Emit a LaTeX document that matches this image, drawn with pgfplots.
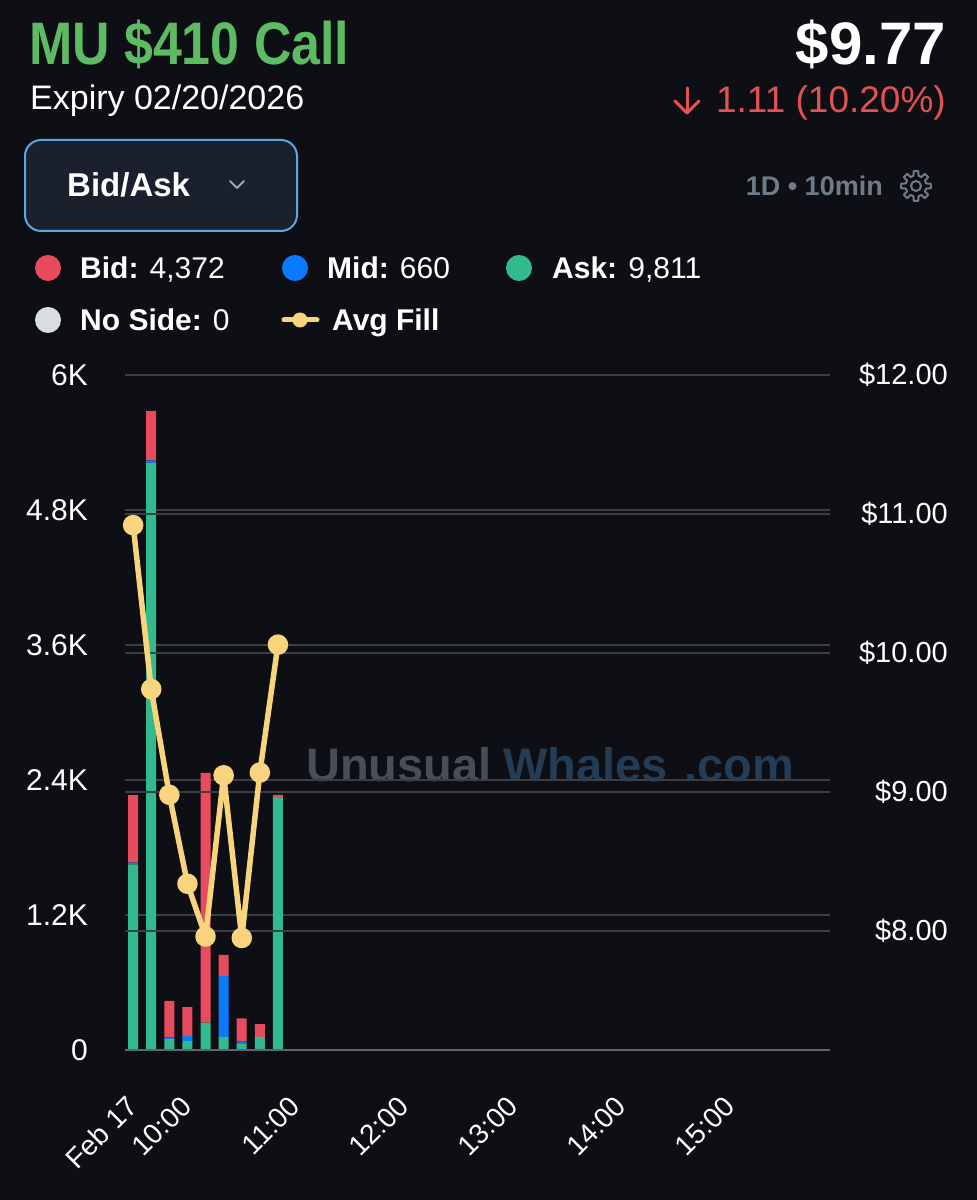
\documentclass[border=0pt]{standalone}
\usepackage{fontspec}
\setmainfont{Liberation Sans}
\newfontfamily\condfont[FakeStretch=0.865]{Liberation Sans}
\usepackage{pgfplots}
\pgfplotsset{compat=1.18}
\definecolor{bg}{HTML}{0D0F14}
\definecolor{titlegreen}{HTML}{5DBB63}
\definecolor{downred}{HTML}{E35252}
\definecolor{bidred}{HTML}{E94B5E}
\definecolor{midblue}{HTML}{0A7AFF}
\definecolor{askgreen}{HTML}{33B98E}
\definecolor{avgyellow}{HTML}{F8D47C}
\definecolor{noside}{HTML}{D9DCE1}
\definecolor{gridc}{HTML}{3B3E45}
\definecolor{btnfill}{HTML}{1A202C}
\definecolor{btnborder}{HTML}{5BA7E0}
\definecolor{greytext}{HTML}{6F7B88}
\definecolor{chev}{HTML}{A0A8B2}
\definecolor{wmgrey}{HTML}{474E58}
\definecolor{wmblue}{HTML}{243C54}
\newcommand{\fs}[1]{\fontsize{#1pt}{#1pt}\selectfont}

\pgfplotstableread{
x ask mid bid
0 1650 15 600
10 5220 20 440
20 98 15 323
30 81 45 254
40 244 0 2220
50 116 540 189
60 53 24 205
70 116 0 114
80 2240 0 27
}\bartable

\pgfplotstableread{
x fill
0 10.92
10 9.74
20 8.98
30 8.34
40 7.96
50 9.12
60 7.95
70 9.14
80 10.06
}\filltable

\begin{document}
\begin{tikzpicture}[x=1pt,y=1pt]
\fill[bg] (0,0) rectangle (977,1200);
\useasboundingbox (0,0) rectangle (977,1200);

% header
\node[anchor=base west, inner sep=0, text=titlegreen, font=\condfont\bfseries\fs{60}] at (29,1135) {MU \$410 Call};
\node[anchor=base west, inner sep=0, text=white, font=\fs{34}] at (30,1090) {Expiry 02/20/2026};
\node[anchor=base east, inner sep=0, text=white, font=\bfseries\fs{60}] at (946,1135) {\$9.77};
\node[anchor=base east, inner sep=0, text=downred, font=\fs{37}] at (946,1087) {1.11 (10.20\%)};
\draw[downred, line width=3pt, line cap=round, line join=round] (687,1112) -- (687,1087);
\draw[downred, line width=3pt, line cap=round, line join=round] (675,1099) -- (687,1087) -- (699,1099);

% button
\draw[fill=btnfill, draw=btnborder, line width=2pt, rounded corners=16pt] (25,969) rectangle (297,1060);
\node[anchor=base west, inner sep=0, text=white, font=\bfseries\fs{33}] at (67,1003) {Bid/Ask};
\draw[chev, line width=2pt, line cap=round, line join=round] (230,1019) -- (237,1012) -- (244,1019);

% 1D 10min + gear
\node[anchor=base east, inner sep=0, text=greytext, font=\bfseries\fs{27}] at (883,1004) {1D • 10min};
\begin{scope}[shift={(916,1014)}]
\draw[greytext, line width=2pt, line join=round] (-14:10.5)
  \foreach \a in {0,45,...,315} { -- (\a-14:10.5) -- (\a-9:15) -- (\a+9:15) -- (\a+14:10.5) } -- cycle;
\draw[greytext, line width=2pt] (0,0) circle (5);
\end{scope}

% legend
\fill[bidred] (48,932) circle (13);
\node[anchor=base west, inner sep=0, text=white, font=\fs{30}] at (80,921) {\textbf{Bid:} 4,372};
\fill[midblue] (295,932) circle (13);
\node[anchor=base west, inner sep=0, text=white, font=\fs{30}] at (327,921) {\textbf{Mid:} 660};
\fill[askgreen] (519,932) circle (13);
\node[anchor=base west, inner sep=0, text=white, font=\fs{30}] at (552,921) {\textbf{Ask:} 9,811};
\fill[noside] (48,880) circle (13);
\node[anchor=base west, inner sep=0, text=white, font=\fs{30}] at (80,869) {\textbf{No Side:} 0};
\draw[avgyellow, line width=5pt, line cap=round] (284,880) -- (317,880);
\fill[avgyellow] (300,880) circle (7.5);
\node[anchor=base west, inner sep=0, text=white, font=\bfseries\fs{30}] at (332,869) {Avg Fill};

% watermark
\node[anchor=base west, inner sep=0, text=wmgrey, font=\bfseries\fs{47}] at (306,418) {Unusual};
\node[anchor=base west, inner sep=0, text=wmblue, font=\bfseries\fs{47}] at (503,418) {Whales};
\node[anchor=base west, inner sep=0, text=wmblue, font=\bfseries\fs{47}] at (684,418) {.com};

% left axis with bars
\begin{axis}[
  at={(125pt,150pt)}, anchor=south west, scale only axis,
  width=705pt, height=675pt,
  xmin=-4.5, xmax=385, ymin=0, ymax=6000,
  ybar stacked, bar width=10pt,
  axis line style={draw=none},
  major tick length=0pt,
  ymajorgrids, major grid style={gridc, line width=2pt},
  ytick={0,1200,2400,3600,4800,6000},
  yticklabels={0,1.2K,2.4K,3.6K,4.8K,6K},
  yticklabel style={anchor=east, inner sep=0pt, xshift=-37pt, text=white, font=\fs{30}},
  xtick={0,30,90,150,210,270,330},
  xticklabels={Feb 17,10:00,11:00,12:00,13:00,14:00,15:00},
  xticklabel style={xshift=-8pt, yshift=-44pt, rotate=45, anchor=north east, inner sep=0pt, text=white, font=\fs{28}},
]
\addplot[fill=askgreen, draw=none] table[x=x, y=ask] {\bartable};
\addplot[fill=midblue, draw=none] table[x=x, y=mid] {\bartable};
\addplot[fill=bidred, draw=none] table[x=x, y=bid] {\bartable};
\end{axis}
\draw[gridc!80!white, line width=2pt] (125,150) -- (830,150);

% right axis with avg fill
\begin{axis}[
  at={(125pt,150pt)}, anchor=south west, scale only axis,
  width=705pt, height=675pt,
  xmin=-4.5, xmax=385, ymin=7.1439, ymax=12,
  axis line style={draw=none},
  major tick length=0pt,
  xtick=\empty,
  axis y line*=right,
  ymajorgrids, major grid style={gridc, line width=2pt},
  ytick={8,9,10,11,12},
  yticklabels={\$8.00,\$9.00,\$10.00,\$11.00,\$12.00},
  yticklabel style={anchor=east, inner sep=0pt, xshift=118pt, text=white, font=\fs{29}},
]
\addplot[avgyellow, line width=5.5pt, line join=round, mark=*, mark size=7.5pt, mark options={fill=avgyellow, draw=none}] table[x=x, y=fill] {\filltable};
\end{axis}
\end{tikzpicture}
\end{document}
